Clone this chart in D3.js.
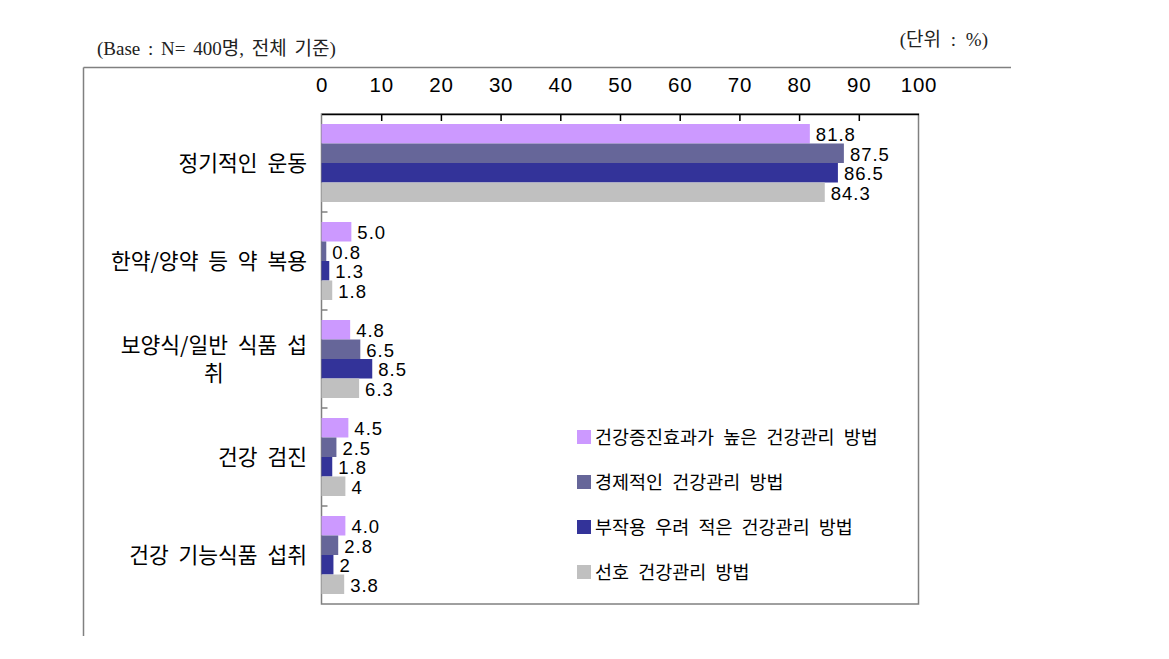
<!DOCTYPE html>
<html><head><meta charset="utf-8">
<script src="https://cdn.jsdelivr.net/npm/d3@7"></script>
<style>
html,body{margin:0;padding:0;background:#fff;}
svg{display:block;}
</style></head>
<body>
<svg id="chart" width="1169" height="659"></svg>
<script>
const categories = ["정기적인 운동", "한약/양약 등 약 복용", "보양식/일반 식품 섭\n취", "건강 검진", "건강 기능식품 섭취"];
const seriesNames = ["건강증진효과가 높은 건강관리 방법", "경제적인 건강관리 방법", "부작용 우려 적은 건강관리 방법", "선호 건강관리 방법"];
const seriesColors = ["#CC99FF", "#666699", "#333399", "#C0C0C0"];
const s1 = [81.8, 5.0, 4.8, 4.5, 4.0];
const s2 = [87.5, 0.8, 6.5, 2.5, 2.8];
const s3 = [86.5, 1.3, 8.5, 1.8, 2];
const s4 = [84.3, 1.8, 6.3, 4, 3.8];
const valueLabels = [
  ["81.8", "5.0", "4.8", "4.5", "4.0"],
  ["87.5", "0.8", "6.5", "2.5", "2.8"],
  ["86.5", "1.3", "8.5", "1.8", "2"],
  ["84.3", "1.8", "6.3", "4", "3.8"]
];
const tickValues = [0, 10, 20, 30, 40, 50, 60, 70, 80, 90, 100];
const baseNote = "(Base : N= 400명, 전체 기준)";
const unitNote = "(단위 : %)";

const series = [s1, s2, s3, s4];
const svg = d3.select("#chart");
const L = 321.5, R = 918.5, T = 114, B = 604;
const x = d3.scaleLinear().domain([0, 100]).range([L, R]);
const y = d3.scaleBand().domain(categories).range([T, B]).paddingInner(0).paddingOuter(0);
const inner = d3.scaleBand().domain(d3.range(series.length)).range([10, y.bandwidth() - 10]);

const numFont = "'Liberation Sans', Arial, sans-serif";
const korFont = "'Noto Sans CJK KR', 'Liberation Sans', sans-serif";
const noteFont = "'Liberation Serif', 'Noto Sans CJK KR', serif";

// frame lines
svg.append("line").attr("x1", 83.5).attr("x2", 1011).attr("y1", 67.5).attr("y2", 67.5).attr("stroke", "#808080").attr("stroke-width", 1.5);
svg.append("line").attr("x1", 83.5).attr("x2", 83.5).attr("y1", 67.5).attr("y2", 636).attr("stroke", "#808080").attr("stroke-width", 1.5);

svg.append("text").attr("x", 97).attr("y", 55).attr("font-family", noteFont).attr("font-size", 19).attr("word-spacing", 3).attr("fill", "#222").text(baseNote);
svg.append("text").attr("x", 988).attr("y", 46).attr("text-anchor", "end").attr("font-family", noteFont).attr("font-size", 19).attr("word-spacing", 5).attr("fill", "#222").text(unitNote);

// plot border
svg.append("rect").attr("x", L).attr("y", T).attr("width", R - L).attr("height", B - T).attr("fill", "none").attr("stroke", "#808080").attr("stroke-width", 1.5);

// bars
series.forEach((vals, si) => {
  svg.append("g").selectAll("rect").data(vals).join("rect")
    .attr("x", L)
    .attr("y", (d, i) => y(categories[i]) + inner(si))
    .attr("width", d => x(d) - L)
    .attr("height", inner.bandwidth())
    .attr("fill", seriesColors[si]);
  svg.append("g").selectAll("text").data(vals).join("text")
    .attr("x", d => x(d) + 6)
    .attr("y", (d, i) => y(categories[i]) + inner(si) + inner.bandwidth() / 2 + 7.5)
    .attr("font-family", numFont).attr("font-size", 18.5).attr("letter-spacing", 1)
    .attr("fill", "#000")
    .text((d, i) => valueLabels[si][i]);
});

// top axis
const xAxis = d3.axisTop(x).tickValues(tickValues).tickSize(0).tickPadding(0);
const gx = svg.append("g").attr("transform", `translate(0,${T})`).call(xAxis);
gx.select(".domain").attr("stroke", "#000").attr("stroke-width", 1.5);
gx.selectAll(".tick text").attr("y", -22).attr("font-family", numFont).attr("font-size", 20.5).attr("letter-spacing", 0.8).attr("fill", "#000");
gx.selectAll(".tick").filter(d => d > 0 && d < 100).append("line").attr("y1", 0).attr("y2", 7).attr("stroke", "#000").attr("stroke-width", 1.5);

// left axis ticks (between categories)
const boundaries = d3.range(categories.length + 1).map(i => T + i * y.step());
svg.append("g").selectAll("line").data(boundaries.slice(1, -1)).join("line")
  .attr("x1", L).attr("x2", L + 6).attr("y1", d => d).attr("y2", d => d)
  .attr("stroke", "#808080").attr("stroke-width", 1.5);

// category labels
const labelRight = 307;
categories.forEach(c => {
  const lines = c.split("\n");
  const cy = y(c) + y.bandwidth() / 2;
  const lh = 28;
  const g = svg.append("g");
  const first = g.append("text").attr("x", labelRight).attr("text-anchor", "end")
    .attr("y", cy - (lines.length - 1) * lh / 2 + 8)
    .attr("font-family", korFont).attr("font-size", 21.5).attr("word-spacing", 5).attr("fill", "#000").text(lines[0]);
  if (lines.length > 1) {
    const w = first.node().getComputedTextLength();
    lines.slice(1).forEach((ln, k) => {
      g.append("text").attr("x", labelRight - w / 2).attr("text-anchor", "middle")
        .attr("y", cy - (lines.length - 1) * lh / 2 + 8 + (k + 1) * lh)
        .attr("font-family", korFont).attr("font-size", 21.5).attr("fill", "#000").text(ln);
    });
  }
});

// legend
const lg = svg.append("g");
seriesNames.forEach((n, i) => {
  const cy = 437 + i * 45;
  lg.append("rect").attr("x", 577).attr("y", cy - 7).attr("width", 14).attr("height", 14).attr("fill", seriesColors[i]);
  lg.append("text").attr("x", 595).attr("y", cy + 6.5).attr("font-family", korFont).attr("font-size", 18.5).attr("word-spacing", 5).attr("fill", "#000").text(n);
});
</script>
</body></html>
